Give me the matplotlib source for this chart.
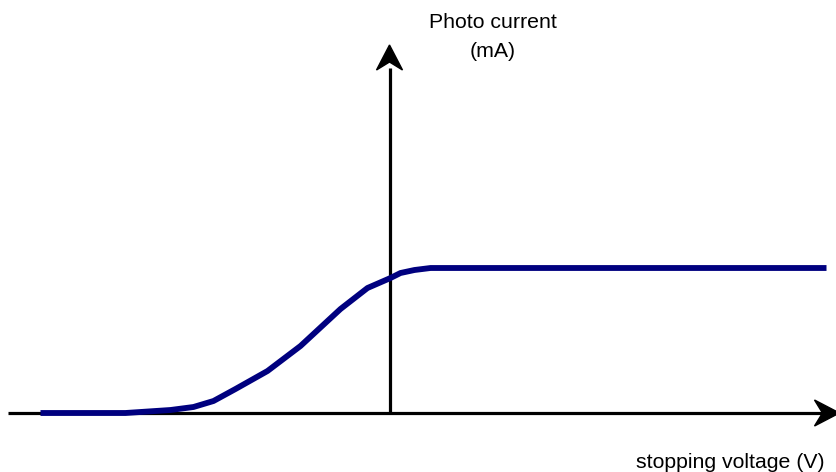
import matplotlib.pyplot as plt
from matplotlib.patches import Polygon

plt.rcParams['font.family'] = ['Liberation Sans', 'DejaVu Sans']

# photo current vs stopping voltage (arbitrary units)
voltage = [-3.49, -2.64, -2.19, -1.96, -1.76, -1.54, -1.22, -0.89, -0.49, -0.22, 0.01, 0.11, 0.25, 0.41, 4.37]
current = [0.0, 0.0, 0.03, 0.06, 0.12, 0.24, 0.42, 0.67, 1.04, 1.25, 1.35, 1.40, 1.43, 1.45, 1.45]

x_label = "stopping voltage (V)"
y_label = "Photo current\n(mA)"

fig = plt.figure(figsize=(8.36, 4.72), dpi=100)
ax = fig.add_axes([0, 0, 1, 1])
ax.set_xlim(-3.895, 4.465)
ax.set_ylim(-0.59, 4.13)
ax.axis('off')

# axes with arrow heads
ax.plot([-3.81, 4.40], [0, 0], color='black', lw=2.3, solid_capstyle='butt', zorder=2)
ax.plot([0, 0], [0, 3.45], color='black', lw=2.3, solid_capstyle='butt', zorder=2)


def head(tip_x, tip_y, dx, dy):
    # notched arrow head pointing along (dx, dy)
    px, py = -dy, dx
    L, W, N = 0.25, 0.13, 0.08
    pts = [(tip_x, tip_y),
           (tip_x - dx * L + px * W, tip_y - dy * L + py * W),
           (tip_x - dx * (L - N), tip_y - dy * (L - N)),
           (tip_x - dx * L - px * W, tip_y - dy * L - py * W)]
    ax.add_patch(Polygon(pts, closed=True, color='black', zorder=3))


head(0, 3.68, 0, 1)
head(4.50, 0, 1, 0)

ax.plot(voltage, current, color='#00007f', lw=4.2, solid_joinstyle='round',
        solid_capstyle='butt', zorder=4)

ax.text(1.035, 3.76, y_label, ha='center', va='center', fontsize=15.3,
        linespacing=1.7)
ax.text(3.41, -0.49, x_label, ha='center', va='center', fontsize=15.3)

fig.savefig("out.png", dpi=100)
